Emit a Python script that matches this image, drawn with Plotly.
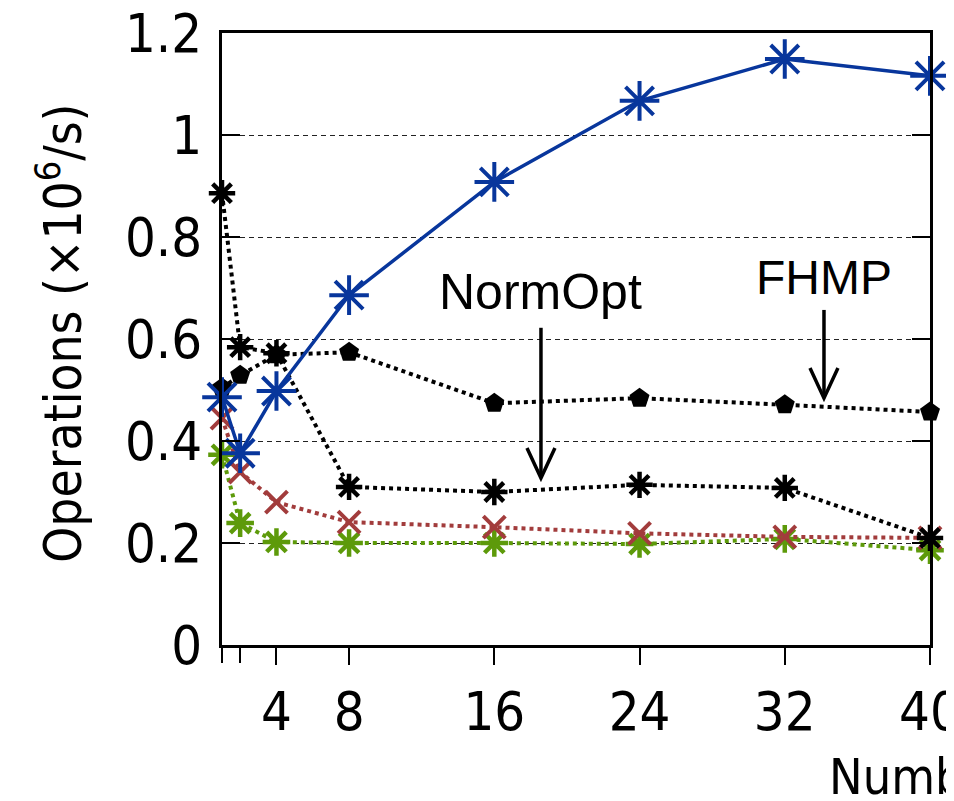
import plotly.graph_objects as go

# ---- data ----
threads = [1, 2, 4, 8, 16, 24, 32, 40]
blue_ops = [0.486, 0.376, 0.498, 0.686, 0.908, 1.067, 1.149, 1.116]
fhmp_ops = [0.504, 0.529, 0.569, 0.574, 0.474, 0.484, 0.471, 0.457]
normopt_ops = [0.886, 0.584, 0.572, 0.310, 0.300, 0.314, 0.308, 0.210]
red_ops = [0.445, 0.339, 0.280, 0.241, 0.231, 0.219, 0.212, 0.210]
green_ops = [0.373, 0.239, 0.202, 0.200, 0.200, 0.198, 0.208, 0.186]

x_tickvals = [4, 8, 16, 24, 32, 40]
x_ticktext = ["4", "8", "16", "24", "32", "40"]
x_minor_ticks = [1, 2]
y_tickvals = [0, 0.2, 0.4, 0.6, 0.8, 1.0, 1.2]
y_ticktext = ["0", "0.2", "0.4", "0.6", "0.8", "1", "1.2"]

NARROW = "Liberation Sans Narrow, Arial Narrow, DejaVu Sans Condensed, Liberation Sans, Arial, sans-serif"
REG = "Liberation Sans, Arial, sans-serif"

fig = go.Figure()

dot = "4px,4px"

fig.add_trace(go.Scatter(x=threads, y=green_ops, mode="lines+markers",
                         line=dict(color="#5d9a0a", width=4, dash=dot),
                         marker=dict(symbol="asterisk-open", size=23,
                                     line=dict(color="#5d9a0a", width=4.5)),
                         cliponaxis=False, showlegend=False))
fig.add_trace(go.Scatter(x=threads, y=red_ops, mode="lines+markers",
                         line=dict(color="#a23c3c", width=4, dash=dot),
                         marker=dict(symbol="x-thin-open", size=22,
                                     line=dict(color="#a23c3c", width=4)),
                         cliponaxis=False, showlegend=False))
fig.add_trace(go.Scatter(x=threads, y=normopt_ops, mode="lines+markers",
                         line=dict(color="black", width=4, dash=dot),
                         marker=dict(symbol="asterisk-open", size=22,
                                     line=dict(color="black", width=4.5)),
                         cliponaxis=False, showlegend=False))
fig.add_trace(go.Scatter(x=threads, y=fhmp_ops, mode="lines+markers",
                         line=dict(color="black", width=4, dash=dot),
                         marker=dict(symbol="pentagon", size=21, color="black"),
                         cliponaxis=False, showlegend=False))
fig.add_trace(go.Scatter(x=threads, y=blue_ops, mode="lines+markers",
                         line=dict(color="#08369c", width=3.5),
                         marker=dict(symbol="asterisk-open", size=33,
                                     line=dict(color="#08369c", width=4)),
                         cliponaxis=False, showlegend=False))

# invisible trace on overlay axis for the unlabeled ticks at 1 and 2
fig.add_trace(go.Scatter(x=x_minor_ticks, y=[None, None], xaxis="x2", yaxis="y",
                         showlegend=False, hoverinfo="skip"))

# annotation arrows (label positions in data coords)
labels = [("NormOpt", 18.57, 0.692, 50, 0.622, 0.3275),
          ("FHMP", 34.16, 0.720, 48, 0.657, 0.484)]
arm_dx, arm_dy = 0.77, 0.059
shapes = []
annotations = []
for text, lx, ly, fs, y0, y1 in labels:
    annotations.append(dict(x=lx, y=ly, xref="x", yref="y", text=text, showarrow=False,
                            font=dict(family=REG, size=fs, color="black"),
                            xanchor="center", yanchor="middle"))
    shapes.append(dict(type="line", xref="x", yref="y", x0=lx, x1=lx, y0=y0, y1=y1,
                       line=dict(color="black", width=3.5)))
    shapes.append(dict(type="path", xref="x", yref="y",
                       path=f"M {lx-arm_dx},{y1+arm_dy} L {lx},{y1} L {lx+arm_dx},{y1+arm_dy}",
                       line=dict(color="black", width=3.5)))

annotations.append(dict(x=-0.229, y=0.51, xref="paper", yref="paper",
                        text="Operations (×10<sup>6</sup>/s)", textangle=-90, showarrow=False,
                        font=dict(family=NARROW, size=51, color="black"),
                        xanchor="center", yanchor="middle"))
annotations.append(dict(x=0.8545, y=-0.215, xref="paper", yref="paper",
                        text="Numb", showarrow=False,
                        font=dict(family=NARROW, size=50, color="black"),
                        xanchor="left", yanchor="middle"))

tick_font = dict(family=NARROW, size=54, color="black")

fig.update_layout(
    width=946, height=793,
    margin=dict(l=214, r=24, t=25, b=156, autoexpand=False),
    plot_bgcolor="white", paper_bgcolor="white",
    shapes=shapes, annotations=annotations,
    xaxis=dict(range=[1, 40], tickvals=x_tickvals, ticktext=x_ticktext,
               showgrid=False, zeroline=False, showline=True, linecolor="black",
               linewidth=3, mirror=True, ticks="outside", ticklen=17, tickwidth=1.5,
               tickcolor="black", tickfont=tick_font, automargin=False,
               ticklabeloverflow="allow"),
    xaxis2=dict(range=[1, 40], overlaying="x", anchor="y", side="bottom",
                tickvals=x_minor_ticks, showticklabels=False, showgrid=False,
                zeroline=False, showline=False, ticks="outside", ticklen=17,
                tickwidth=1.5, tickcolor="black", automargin=False),
    yaxis=dict(range=[0, 1.2], tickvals=y_tickvals, ticktext=y_ticktext,
               showgrid=True, gridcolor="#222", gridwidth=1.2, griddash="5px,4px",
               zeroline=False, showline=True, linecolor="black", linewidth=3,
               mirror="ticks", ticks="inside", ticklen=18, tickwidth=1.5, tickcolor="black",
               ticklabelstandoff=6, automargin=False, ticklabeloverflow="allow",
               tickfont=tick_font),
)

fig.write_html("out.html")
